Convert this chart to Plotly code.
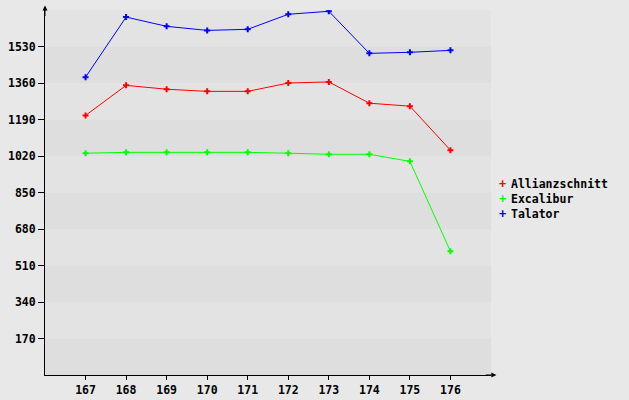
import plotly.graph_objects as go

# Daten
runden = [167, 168, 169, 170, 171, 172, 173, 174, 175, 176]
allianzschnitt = [1209, 1349, 1331, 1321, 1321, 1360, 1365, 1266, 1252, 1047]
excalibur = [1033, 1037, 1037, 1037, 1037, 1033, 1028, 1028, 995, 576]
talator = [1387, 1667, 1624, 1605, 1610, 1680, 1694, 1498, 1503, 1512]

y_ticks = [170, 340, 510, 680, 850, 1020, 1190, 1360, 1530]
y_max = 1700

serien = [
    ("Allianzschnitt", allianzschnitt, "#ff0000"),
    ("Excalibur", excalibur, "#00ff00"),
    ("Talator", talator, "#0000ff"),
]

schrift = dict(family="DejaVu Sans Mono", size=11.5, color="#000000", weight="bold")

fig = go.Figure()

for name, werte, farbe in serien:
    fig.add_trace(go.Scatter(x=runden, y=werte, mode="lines+markers", name=name,
                             line=dict(color=farbe, width=1),
                             marker=dict(symbol="cross", size=5, color=farbe, line=dict(width=0)),
                             showlegend=False))

# Hintergrundstreifen
for i in range(y_max // 170):
    fig.add_shape(type="rect", xref="paper", x0=0, x1=1, yref="y",
                  y0=i * 170, y1=(i + 1) * 170,
                  fillcolor="#dedede" if i % 2 == 0 else "#e3e3e3",
                  line=dict(width=0), layer="below")

# Achsenpfeile
fig.add_annotation(xref="paper", yref="paper", x=1.012, y=0, ax=-12, ay=0,
                   showarrow=True, arrowhead=2, arrowsize=1, arrowwidth=1,
                   arrowcolor="#000000", text="")
fig.add_annotation(xref="paper", yref="paper", x=0, y=1.012, ax=0, ay=12,
                   showarrow=True, arrowhead=2, arrowsize=1, arrowwidth=1,
                   arrowcolor="#000000", text="")

# Legende als Text
plot_l, plot_r = 45, 491
for j, (name, werte, farbe) in enumerate(serien):
    y_px = 184 + j * 15
    y_paper = (375 - y_px) / 365
    fig.add_annotation(xref="paper", yref="paper", x=(502 - plot_l) / (plot_r - plot_l), y=y_paper,
                       text="+", showarrow=False, xanchor="center", yanchor="middle",
                       font=dict(family="DejaVu Sans Mono", size=12, color=farbe, weight="bold"))
    fig.add_annotation(xref="paper", yref="paper", x=(509 - plot_l) / (plot_r - plot_l), y=y_paper,
                       text=name, showarrow=False, xanchor="left", yanchor="middle",
                       font=schrift)

fig.update_layout(
    width=629, height=400,
    margin=dict(l=45, r=138, t=10, b=25, autoexpand=False),
    paper_bgcolor="#e8e8e8", plot_bgcolor="#e3e3e3",
    font=schrift,
)

fig.update_xaxes(range=[166, 177], tickvals=runden, showgrid=False, zeroline=False,
                 showline=True, linecolor="#000000", linewidth=1, automargin=False,
                 ticks="outside", ticklen=4, tickcolor="#000000", tickfont=schrift)
fig.update_yaxes(range=[0, y_max], tickvals=y_ticks, showgrid=False, zeroline=False,
                 showline=True, linecolor="#000000", linewidth=1, automargin=False,
                 ticks="outside", ticklen=6, tickcolor="#000000", tickfont=schrift)

# Seitenrand des Browsers entfernen
fig.write_html("out.html", config={"displayModeBar": False},
               post_script="document.body.style.margin='0';"
                           "document.body.style.background='#e8e8e8';")
